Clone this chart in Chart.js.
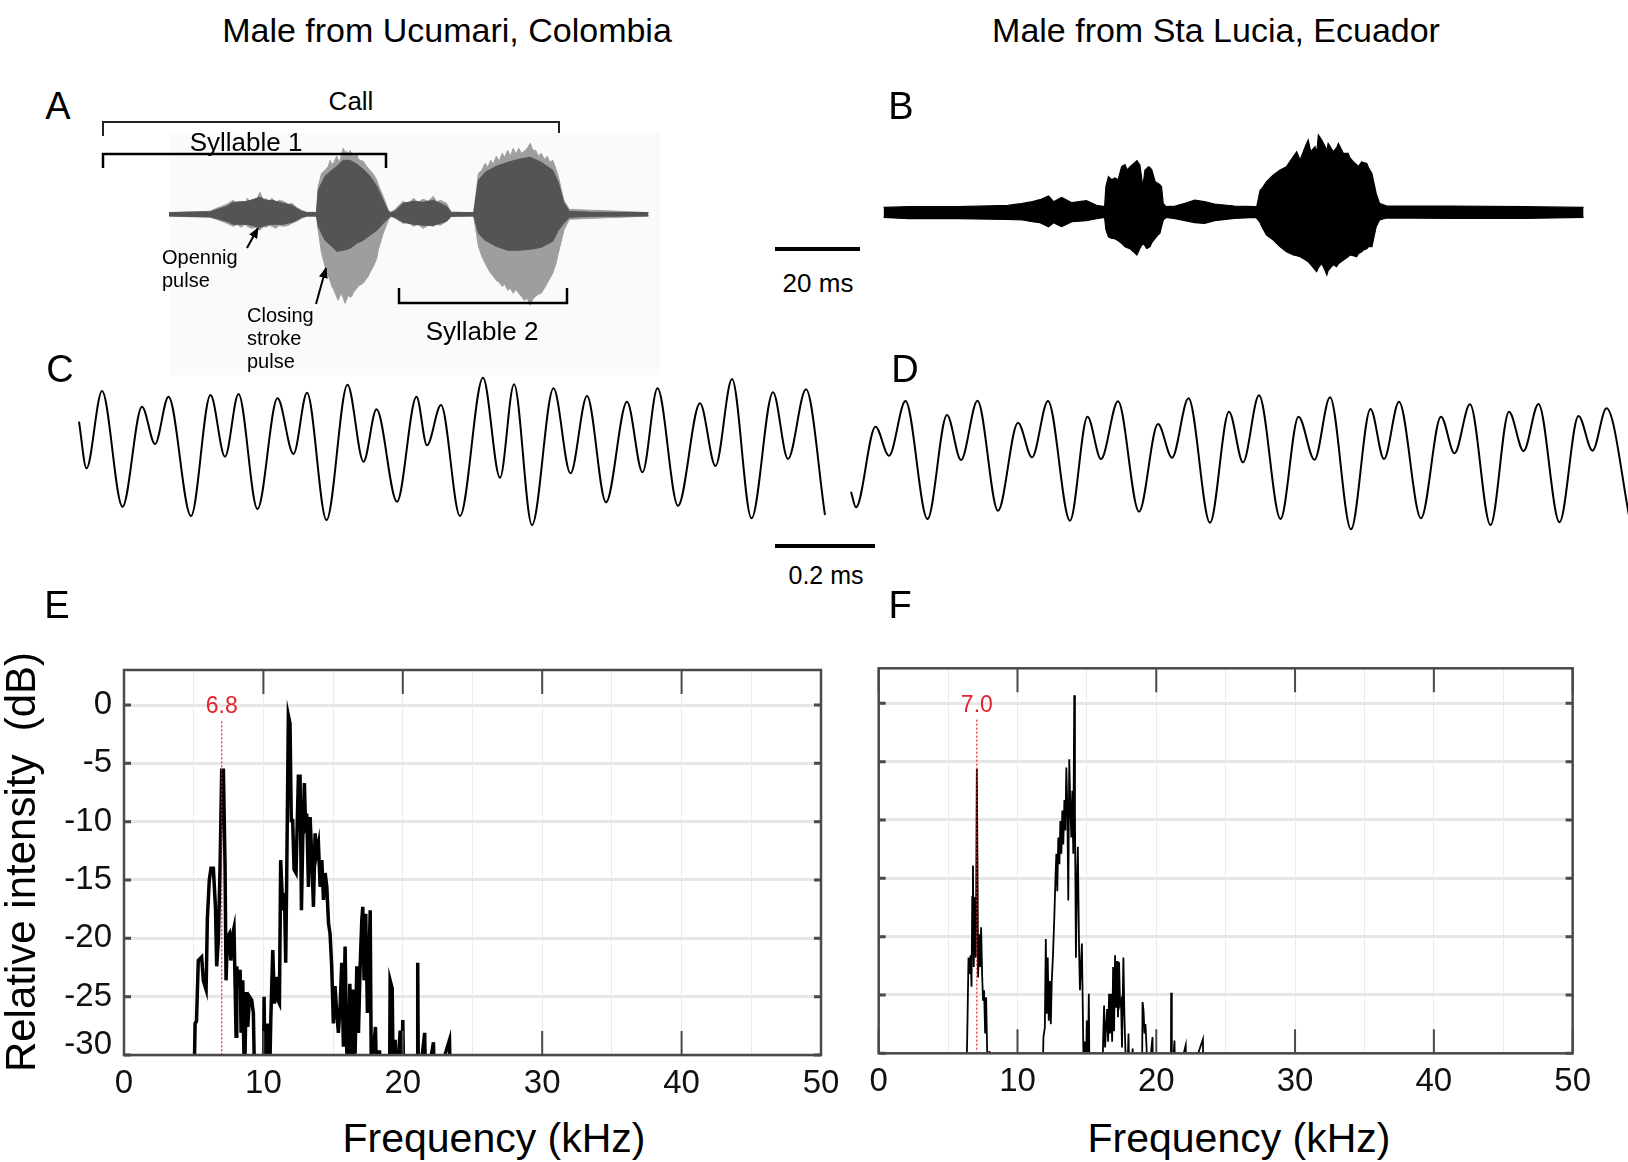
<!DOCTYPE html>
<html><head><meta charset="utf-8">
<script src="https://cdn.jsdelivr.net/npm/chart.js@4.4.1/dist/chart.umd.min.js"></script>
<style>
html,body{margin:0;padding:0;background:#fff;}
body{width:1628px;height:1162px;position:relative;overflow:hidden;font-family:"Liberation Sans",Arial,Helvetica,sans-serif;color:#000;}
canvas{position:absolute;}
.t{position:absolute;white-space:pre;transform:translate(-50%,-50%);line-height:1;}
.l{position:absolute;white-space:pre;transform:translateY(-50%);line-height:1;}
</style></head><body>
<div style="position:absolute;left:169px;top:133px;width:491px;height:242px;background:#fafafa"></div>
<canvas id="cA"></canvas>
<canvas id="cB"></canvas>
<canvas id="cC"></canvas>
<canvas id="cD"></canvas>
<canvas id="cE"></canvas>
<canvas id="cF"></canvas>

<div class="t" style="left:447px;top:30px;font-size:34px">Male from Ucumari, Colombia</div>
<div class="t" style="left:1216px;top:30px;font-size:34px">Male from Sta Lucia, Ecuador</div>
<div class="t" style="left:58px;top:106px;font-size:38px">A</div>
<div class="t" style="left:901px;top:106px;font-size:38px">B</div>
<div class="t" style="left:60px;top:369px;font-size:38px">C</div>
<div class="t" style="left:905px;top:369px;font-size:38px">D</div>
<div class="t" style="left:57px;top:605px;font-size:38px">E</div>
<div class="t" style="left:900px;top:605px;font-size:38px">F</div>

<div class="t" style="left:351px;top:101px;font-size:26px">Call</div>
<div class="t" style="left:246px;top:142px;font-size:26px">Syllable 1</div>
<div class="t" style="left:482px;top:331px;font-size:26px">Syllable 2</div>
<div class="l" style="left:162px;top:257px;font-size:20px">Opennig</div>
<div class="l" style="left:162px;top:280px;font-size:20px">pulse</div>
<div class="l" style="left:247px;top:315px;font-size:20px">Closing</div>
<div class="l" style="left:247px;top:338px;font-size:20px">stroke</div>
<div class="l" style="left:247px;top:361px;font-size:20px">pulse</div>
<div class="t" style="left:818px;top:283px;font-size:26px">20 ms</div>
<div class="t" style="left:826px;top:575px;font-size:25px">0.2 ms</div>

<div class="t" style="left:494px;top:1138px;font-size:41px">Frequency (kHz)</div>
<div class="t" style="left:1239px;top:1138px;font-size:41px">Frequency (kHz)</div>
<div class="t" style="left:21px;top:862px;font-size:42px;transform:translate(-50%,-50%) rotate(-90deg)">Relative intensity  (dB)</div>

<svg width="1628" height="1162" style="position:absolute;left:0;top:0">
<defs><marker id="ah" markerWidth="11" markerHeight="9" refX="10" refY="4.5" orient="auto" markerUnits="userSpaceOnUse"><path d="M0,0 L11,4.5 L0,9 z" fill="#000"/></marker></defs>
<polyline points="103,136 103,122 559,122 559,133" fill="none" stroke="#222" stroke-width="2"/>
<polyline points="103,168 103,154 386,154 386,168" fill="none" stroke="#000" stroke-width="2.5"/>
<polyline points="399,288 399,303 567,303 567,288" fill="none" stroke="#000" stroke-width="2.5"/>
<line x1="247" y1="248" x2="258" y2="228" stroke="#000" stroke-width="2" marker-end="url(#ah)"/>
<line x1="316" y1="304" x2="326" y2="268" stroke="#000" stroke-width="2" marker-end="url(#ah)"/>
<line x1="775" y1="249" x2="860" y2="249" stroke="#000" stroke-width="4"/>
<line x1="775" y1="546" x2="875" y2="546" stroke="#000" stroke-width="4"/>
</svg>

<script>
// ---------- DATA ----------
// Panel A: oscillogram envelope, Ucumari male (time in ms, amplitude in a.u.)
// outer (light grey) envelope
const aOutTime = [0,5.0,9.6,11.2,13.6,15.1,16.1,16.9,17.9,18.4,19.4,20.5,21.4,22.2,22.8,23.6,24.2,25.2,25.9,26.9,28.1,28.9,30.0,31.2,32.4,34.7,
  35.1,35.9,36.7,37.5,37.9,38.3,38.7,39.1,39.5,39.8,40.2,40.6,41.0,41.4,41.8,42.2,42.6,43.0,43.4,43.8,44.2,44.5,44.9,45.7,46.5,46.9,47.3,48.1,48.9,49.2,50.4,51.6,52.2,
  53.2,55.1,56.3,57.5,58.6,59.8,61.0,62.2,63.0,63.8,65.3,66.4,71.7,
  72.8,73.6,74.4,75.0,75.7,76.3,77.0,77.7,78.4,79.0,79.7,80.3,81.0,81.6,82.3,82.9,83.6,84.3,85.0,85.6,86.3,86.9,87.6,88.3,89.0,89.6,90.3,91.0,91.6,92.3,92.9,94.2,99.5,106.2,112.8];
const aOutUp = [1.7,2.5,3,6,10,14,9,11,8,16,11,14,22,14,16,12,16,12,14,13,10,11,7,4,2,2,
  28,41,44,48,54,50,51,55,58,54,53,60,66,62,63,60,64,60,58,60,61,56,54,53,48,46,44,40,34,30,18,4,2,
  5,13,10,16,12,15,13,18,12,14,11,2,1.7,
  41,44,51,47,54,50,58,53,61,57,64,58,66,60,66,61,63,66,71,64,64,58,61,55,58,52,54,46,38,25,14,5,4,3,1.7];
const aOutDown = [-1.7,-2.5,-3,-5,-9,-12,-10,-13,-10,-12,-14,-13,-16,-12,-13,-11,-12,-14,-11,-12,-11,-9,-7,-4,-2,-2,
  -16,-39,-52,-62,-66,-72,-75,-79,-83,-86,-82,-79,-84,-89,-85,-81,-83,-82,-78,-76,-74,-72,-71,-69,-64,-62,-58,-52,-44,-36,-19,-6,-2,
  -4,-9,-8,-12,-10,-14,-11,-12,-10,-11,-7,-2,-1.7,
  -32,-42,-49,-54,-59,-62,-66,-68,-72,-70,-76,-74,-79,-75,-79,-82,-86,-84,-91,-85,-82,-80,-79,-74,-69,-64,-59,-50,-39,-27,-16,-5,-4,-3,-1.7];
// inner (dark grey) core
const aInTime = [0,9.6,13.6,15.1,18.4,21.4,22.8,24.2,26.9,28.9,30.0,31.2,32.4,34.7,35.1,36.7,38.3,39.5,41.0,42.6,44.2,45.7,47.3,48.9,50.4,51.6,52.2,53.2,55.1,57.5,59.8,62.2,63.8,65.3,66.4,71.7,72.8,74.4,77.0,79.7,82.3,85.0,87.6,90.3,91.6,92.9,94.2,99.5,112.8];
const aInUp = [1.7,2.5,8,12,13,17,14,14,11,9,6,3,1.7,1.7,24,38,44,48,54,54,50,45,38,28,14,3,1.7,3,11,13,12,14,11,8,2,1.7,34,42,48,52,55,57,52,44,32,12,3,2,1.7];
const aInDown = [-1.7,-2.5,-7,-10,-10,-13,-11,-10,-10,-8,-6,-3,-1.7,-1.7,-12,-26,-32,-37,-36,-34,-29,-26,-21,-16,-9,-4,-1.7,-3,-8,-10,-11,-11,-9,-7,-2,-1.7,-19,-26,-32,-36,-36,-35,-33,-27,-16,-9,-3,-2,-1.7];

// Panel B: oscillogram envelope, Sta Lucia male
const bTime = [0,6,17.6,29.2,32.7,35.0,36.8,38.8,40.0,41.9,44.3,47.7,50.1,52.0,
  52.3,52.9,53.7,54.4,55.2,56.0,56.8,57.3,58.0,58.8,59.6,60.3,61.0,61.5,61.9,62.3,62.7,63.1,63.9,64.6,65.0,65.4,65.8,66.5,
  68.6,70.9,73.2,75.5,77.9,82.5,87.5,
  87.8,88.6,89.0,90.1,91.7,93.3,94.8,96.4,97.2,98.0,99.2,99.9,100.5,101.5,101.9,102.3,103.1,103.9,104.3,104.6,105.4,105.8,106.6,107.0,108.2,109.3,109.7,110.5,111.3,111.7,112.5,112.9,113.7,114.1,114.9,115.9,116.7,118.4,
  133.5,150.8,164.7];
const bUp = [5.3,6,6,7.3,9.3,11,13,16.7,11,15.3,10,12,7.3,6,
  26,36,33,34.7,33,46,48,42.7,46,49,52,47.7,26,42.7,44,46,45,43,31,29.3,28,26,9,6,
  6.7,9.3,12.7,11,8.7,6.7,6,
  6,22.7,24,31,37.7,42.7,46,56,61,52.7,66,72.7,61,66,60,77.7,72.7,66,62,69.3,64,61,65,69.3,59.3,59.3,55,51,48,46,51,50,49.3,45,39.3,19.3,9.3,6.7,
  6.7,6,5.3];
const bDown = [-4.7,-6,-6,-6.7,-7.3,-9,-10,-14,-10,-14,-9,-8,-6,-4.7,
  -17,-24,-25.7,-26,-28,-30.7,-34,-35,-36,-39,-42.3,-35.7,-30.7,-33,-35.7,-35,-34,-30,-25.7,-22,-20.7,-14,-7.3,-4.7,
  -6,-8,-10,-10.7,-8,-5.7,-4.7,
  -5.7,-10,-14,-22.3,-27.3,-34,-39,-42.3,-43,-44,-47,-49,-52,-57,-59,-55,-50.7,-58,-62.3,-58,-54,-52,-54,-51,-47.3,-44,-42.3,-43,-44,-41,-39,-37.3,-36,-34,-34,-14,-7.3,-5.3,
  -5.7,-5.7,-4.7];

// Panel C: expanded waveform extrema (time ms, amplitude a.u.)
const cTime = [0,0.015,0.046,0.087,0.126,0.152,0.179,0.224,0.263,0.292,0.319,0.357,0.397,0.429,0.456,0.495,0.537,0.569,0.595,0.636,0.675,0.696,0.724,0.762,0.808,0.842,0.870,0.906,0.949,0.983,1.016,1.054,1.096,1.127,1.157,1.198,1.242,1.273,1.306,1.345,1.388,1.418,1.454,1.492];
const cAmp = [28.3,-18.3,59,-56.7,43.3,6,53.3,-66,55,-6.7,56,-59,51.7,-4,57.3,-70,65.3,-11.7,40.7,-51.7,53.3,4.7,45,-66,72.3,-27.7,65.7,-75,61.7,-23.3,54,-52.3,48.3,-22.3,61.7,-55.7,46.7,-16,71,-68.3,57.7,-9,60.7,-65];

// Panel D
const dTime = [0,0.010,0.049,0.076,0.109,0.153,0.192,0.220,0.253,0.294,0.334,0.362,0.394,0.438,0.473,0.500,0.534,0.576,0.614,0.642,0.675,0.718,0.756,0.784,0.816,0.859,0.895,0.927,0.958,1.000,1.039,1.066,1.096,1.140,1.180,1.207,1.238,1.279,1.316,1.345,1.375,1.417,1.455,1.483,1.511,1.559];
const dAmp = [-41.7,-57.3,23.3,-5.7,49,-69,35,-10,49.3,-60.7,27.3,-7.3,49,-70.7,33.3,-9,48.7,-61.7,26,-7.7,51.7,-72.7,38.3,-12.3,54.7,-69,33.3,-9.7,52.7,-79.3,41,-9,48.3,-68.3,33.3,-3.3,45.7,-75,38.3,-1,46,-72.3,34,-0.7,41.7,-73.3];

// Panel E: spectrum (kHz, dB)
const eFreq = [5.02,5.10,5.20,5.33,5.57,5.69,5.89,5.98,6.12,6.24,6.41,6.56,6.65,6.77,6.89,7.01,7.13,7.25,7.32,7.42,7.56,7.66,7.80,7.89,8.04,8.09,8.20,8.33,8.40,8.52,8.64,8.76,8.88,9.00,9.16,9.28,9.38,10.00,10.05,10.12,10.29,10.43,10.53,10.67,10.79,10.91,11.03,11.15,11.24,11.39,11.51,11.60,11.67,11.79,11.91,12.00,12.10,12.20,12.34,12.51,12.63,12.73,12.82,12.94,13.04,13.11,13.23,13.35,13.47,13.59,13.71,13.83,13.95,14.07,14.19,14.31,14.43,14.55,14.67,14.78,14.90,15.02,15.14,15.26,15.38,15.50,15.62,15.74,15.86,15.98,16.10,16.20,16.34,16.46,16.58,16.70,16.82,16.94,17.06,17.13,17.22,17.34,17.46,17.56,17.66,17.75,17.85,18.04,18.13,18.33,18.40,19.05,19.09,19.24,19.32,19.45,19.55,19.81,19.90,20.00,20.08,21.05,21.07,21.12,21.57,21.64,22.20,22.27,23.35,23.42];
const eLevel = [-33,-27.3,-27.1,-21.9,-21.6,-23.6,-24.4,-18.3,-15.0,-14.0,-14.0,-17.3,-22.4,-20.1,-13.9,-5.6,-5.6,-13.9,-23.6,-19.9,-19.6,-21.9,-19.6,-19.1,-28.4,-22.4,-24.1,-22.7,-28.1,-23.6,-33,-24.6,-27.6,-25.0,-25.3,-26.4,-33,-33,-25.0,-33,-27.3,-33,-27.0,-21.0,-25.6,-23.3,-25.3,-25.6,-13.3,-17.6,-16.1,-22.1,-15.0,-0.9,-1.6,-9.9,-9.9,-14.1,-14.4,-6.1,-6.1,-17.6,-11.6,-6.7,-11.0,-9.3,-15.6,-9.6,-13.0,-17.3,-11.0,-12.7,-11.9,-15.6,-13.3,-16.7,-14.4,-15.6,-18.7,-19.6,-22.4,-27.3,-24.1,-26.4,-28.1,-25.9,-22.1,-29.3,-20.7,-29.6,-33,-23.9,-30.1,-24.4,-29.9,-22.4,-28.1,-22.4,-18.4,-17.3,-23.6,-17.9,-26.4,-23.3,-17.6,-33,-30.1,-27.6,-33,-29.6,-33,-33,-23.6,-24.3,-33,-28.7,-33,-27.9,-33,-27.0,-33,-33,-22.1,-33,-28.1,-33,-28.9,-33,-28.7,-33];
const eLabel = "6.8";

// Panel F: spectrum (kHz, dB)
const fFreq = [6.30,6.38,6.47,6.54,6.62,6.69,6.74,6.79,6.85,6.93,7.00,7.07,7.12,7.16,7.24,7.31,7.38,7.45,7.52,7.59,7.67,7.74,7.81,7.88,7.98,8.05,11.80,11.87,11.97,12.04,12.11,12.18,12.25,12.33,12.40,12.47,12.56,12.66,12.73,12.80,12.87,12.94,13.02,13.09,13.16,13.23,13.30,13.38,13.45,13.52,13.59,13.66,13.73,13.81,13.88,13.95,14.02,14.09,14.14,14.21,14.28,14.35,14.43,14.50,14.57,14.64,14.71,14.78,14.85,14.92,14.99,15.06,15.14,15.19,16.10,16.17,16.24,16.31,16.38,16.46,16.53,16.60,16.67,16.74,16.82,16.89,16.96,17.03,17.10,17.17,17.24,17.32,17.39,17.46,17.53,17.63,17.70,17.77,17.89,18.00,18.06,18.30,18.36,18.97,19.01,19.08,19.15,19.22,19.30,19.37,19.73,19.78,21.05,21.07,21.12,21.31,21.37,22.12,22.17,23.36,23.41];
const fLevel = [-33,-28.5,-21.8,-23.2,-21.6,-24.3,-16.6,-13.9,-22.6,-16.6,-21.8,-5.6,-14.1,-23.5,-19.8,-22.6,-19.2,-23.2,-25.5,-24.6,-28.3,-25.2,-29.5,-33,-29.8,-33,-33,-28.6,-27.8,-20.2,-26.6,-21.8,-27.2,-23.8,-27.5,-23.8,-21.5,-18.1,-15.2,-12.9,-16.1,-11.5,-13.8,-10.1,-12.9,-9.2,-12.1,-8.3,-10.9,-5.5,-8.9,-16.9,-4.8,-8.9,-11.5,-7.5,-12.9,0.7,-9.5,-21.8,-15.5,-12.3,-20.6,-24.6,-22.6,-20.6,-26.6,-33,-29.0,-33,-27.2,-33,-24.9,-33,-33,-29,-25.9,-29.5,-27.8,-26.2,-29,-24.9,-28.3,-24.9,-29,-22.6,-28.1,-21.6,-26.1,-22.1,-26.9,-22.2,-25.8,-25.5,-29.5,-21.8,-26.6,-29.5,-33,-28.3,-33,-29.6,-33,-33,-25.6,-26.3,-28.3,-27.5,-29.5,-33,-28.6,-33,-33,-24.8,-33,-28.9,-33,-29.3,-33,-28.8,-33];
const fLabel = "7.0";

const xTickValues = [0,10,20,30,40,50];
const yTickValues = [0,-5,-10,-15,-20,-25,-30];

// ---------- RENDERING ----------
const FONT = '"Liberation Sans", Arial, Helvetica, sans-serif';
const RED = '#e3222b';

function box(id, l, t, w, h) {
  const c = document.getElementById(id);
  c.width = w; c.height = h;
  c.style.left = l + 'px'; c.style.top = t + 'px';
  c.style.width = w + 'px'; c.style.height = h + 'px';
  return c;
}
function pts(xs, ys) { return xs.map((x, i) => ({x: x, y: ys[i]})); }
function range(w, h, ox, px, oy, py) {
  return {xmin: -ox / px, xmax: (w - ox) / px, ymin: -(h - oy) / py, ymax: oy / py};
}
function trace(canvas, datasets, r) {
  return new Chart(canvas, {
    type: 'line',
    data: {datasets: datasets},
    options: {
      responsive: false, maintainAspectRatio: false, animation: false, devicePixelRatio: 1,
      layout: {padding: 0}, events: [],
      plugins: {legend: {display: false}, tooltip: {enabled: false}},
      elements: {point: {radius: 0}},
      scales: {
        x: {type: 'linear', display: false, min: r.xmin, max: r.xmax},
        y: {type: 'linear', display: false, min: r.ymin, max: r.ymax}
      }
    }
  });
}

// A
const lightA = '#9e9e9e', darkA = '#545454';
trace(box('cA', 160, 125, 510, 260), [
  {data: pts(aInTime, aInUp), borderColor: darkA, borderWidth: 1, fill: '+1', backgroundColor: darkA},
  {data: pts(aInTime, aInDown), borderColor: darkA, borderWidth: 1, fill: false},
  {data: pts(aOutTime, aOutUp), borderColor: lightA, borderWidth: 1, fill: '+1', backgroundColor: lightA},
  {data: pts(aOutTime, aOutDown), borderColor: lightA, borderWidth: 1, fill: false}
], range(510, 260, 9, 4.25, 89.3, 1));

// B
trace(box('cB', 870, 120, 730, 180), [
  {data: pts(bTime, bUp), borderColor: '#000', borderWidth: 1.2, fill: '+1', backgroundColor: '#000'},
  {data: pts(bTime, bDown), borderColor: '#000', borderWidth: 1.2, fill: false}
], range(730, 180, 13.6, 4.25, 92.7, 1));

// C, D
trace(box('cC', 70, 360, 770, 180), [
  {data: pts(cTime, cAmp), borderColor: '#000', borderWidth: 2, fill: false, cubicInterpolationMode: 'monotone'}
], range(770, 180, 9, 500, 90, 1));
trace(box('cD', 842, 370, 786, 180), [
  {data: pts(dTime, dAmp), borderColor: '#000', borderWidth: 2, fill: false, cubicInterpolationMode: 'monotone'}
], range(786, 180, 9, 500, 80, 1));

// E, F
function peakOf(freqs, levels, lo, hi) {
  let best = -Infinity, at = lo;
  freqs.forEach((f, i) => { if (f >= lo && f <= hi && levels[i] > best) { best = levels[i]; at = f; } });
  return at;
}
function framePlugin(peak, label) {
  return {
    id: 'axesFrame',
    afterDatasetsDraw(chart) {
      const ctx = chart.ctx, a = chart.chartArea, xs = chart.scales.x, ys = chart.scales.y;
      ctx.save();
      ctx.strokeStyle = '#4a4a4a';
      ctx.lineWidth = 2;
      ctx.beginPath();
      xTickValues.forEach(v => {
        const px = xs.getPixelForValue(v);
        ctx.moveTo(px, a.top); ctx.lineTo(px, a.top + 24);
        ctx.moveTo(px, a.bottom); ctx.lineTo(px, a.bottom - 24);
      });
      ctx.stroke();
      ctx.lineWidth = 3;
      ctx.beginPath();
      yTickValues.forEach(v => {
        const py = ys.getPixelForValue(v);
        ctx.moveTo(a.left, py); ctx.lineTo(a.left + 7, py);
        ctx.moveTo(a.right, py); ctx.lineTo(a.right - 7, py);
      });
      ctx.stroke();
      ctx.lineWidth = 2.5;
      ctx.strokeRect(a.left, a.top, a.right - a.left, a.bottom - a.top);
      ctx.fillStyle = RED;
      ctx.font = '23px ' + FONT;
      ctx.textAlign = 'center';
      ctx.textBaseline = 'middle';
      ctx.fillText(label, xs.getPixelForValue(peak), ys.getPixelForValue(0) + 2);
      ctx.restore();
    }
  };
}
function spectrum(canvas, freqs, levels, lineW, label, showY, L) {
  const peak = peakOf(freqs, levels, 5, 9);
  return new Chart(canvas, {
    type: 'line',
    data: {datasets: [
      {data: [{x: peak, y: -1.4}, {x: peak, y: -30}], borderColor: RED, borderWidth: 1.2, borderDash: [2, 2], pointRadius: 0, fill: false, order: 0, clip: 0},
      {data: pts(freqs, levels), borderColor: '#000', borderWidth: lineW, pointRadius: 0, fill: false, tension: 0, order: 1, clip: 0, borderJoinStyle: 'miter'}
    ]},
    options: {
      responsive: false, maintainAspectRatio: false, animation: false, devicePixelRatio: 1, events: [],
      layout: {padding: {left: 0, right: L.right, top: L.top, bottom: 0}},
      plugins: {legend: {display: false}, tooltip: {enabled: false}},
      scales: {
        x: {
          type: 'linear', min: 0, max: 50, border: {display: false},
          grid: {color: '#ebebeb', lineWidth: 1, drawTicks: false},
          ticks: {stepSize: 5, autoSkip: false, maxRotation: 0, padding: 9, color: '#111',
                  font: {family: FONT, size: 33},
                  callback: v => (xTickValues.includes(v) ? String(v) : '')},
          afterFit: s => { s.height = L.xh; }
        },
        y: {
          type: 'linear', min: -30, max: 3, border: {display: false},
          grid: {color: '#e6e6e6', lineWidth: 3, drawTicks: false},
          ticks: {stepSize: 5, includeBounds: false, display: showY, padding: 12, color: '#111',
                  font: {family: FONT, size: 33, lineHeight: 0.6},
                  callback: v => (v === -30 ? ['-30', ''] : String(v))},
          afterFit: s => { s.width = L.yw; }
        }
      }
    },
    plugins: [framePlugin(peak, label)]
  });
}
spectrum(box('cE', 40, 640, 810, 470), eFreq, eLevel, 3.5, eLabel, true, {right: 29, top: 30, xh: 55, yw: 84});
spectrum(box('cF', 800, 640, 800, 470), fFreq, fLevel, 1.8, fLabel, false, {right: 23.6, top: 28.3, xh: 56.7, yw: 78.7});
</script>
</body></html>
